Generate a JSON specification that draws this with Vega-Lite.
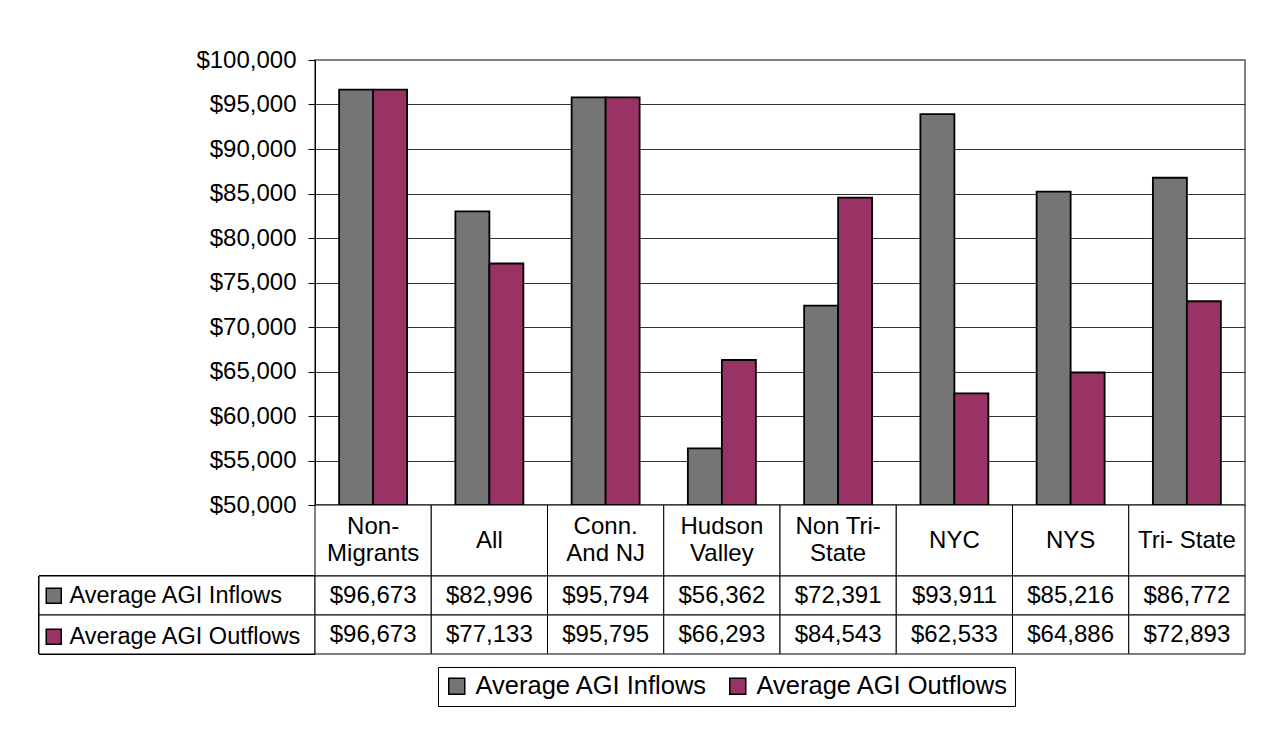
{
  "$schema": "https://vega.github.io/schema/vega-lite/v6.json",
  "background": "white",
  "padding": {"left": 38, "top": 47, "right": 0, "bottom": 0},
  "autosize": {"type": "pad"},
  "datasets": {
    "agi": [
      {"cat": "Non-Migrants", "label": "Non-\nMigrants", "series": "Average AGI  Inflows", "value": 96673},
      {"cat": "Non-Migrants", "label": "Non-\nMigrants", "series": "Average AGI Outflows", "value": 96673},
      {"cat": "All", "label": "All", "series": "Average AGI  Inflows", "value": 82996},
      {"cat": "All", "label": "All", "series": "Average AGI Outflows", "value": 77133},
      {"cat": "Conn. And NJ", "label": "Conn.\nAnd NJ", "series": "Average AGI  Inflows", "value": 95794},
      {"cat": "Conn. And NJ", "label": "Conn.\nAnd NJ", "series": "Average AGI Outflows", "value": 95795},
      {"cat": "Hudson Valley", "label": "Hudson\nValley", "series": "Average AGI  Inflows", "value": 56362},
      {"cat": "Hudson Valley", "label": "Hudson\nValley", "series": "Average AGI Outflows", "value": 66293},
      {"cat": "Non Tri-State", "label": "Non Tri-\nState", "series": "Average AGI  Inflows", "value": 72391},
      {"cat": "Non Tri-State", "label": "Non Tri-\nState", "series": "Average AGI Outflows", "value": 84543},
      {"cat": "NYC", "label": "NYC", "series": "Average AGI  Inflows", "value": 93911},
      {"cat": "NYC", "label": "NYC", "series": "Average AGI Outflows", "value": 62533},
      {"cat": "NYS", "label": "NYS", "series": "Average AGI  Inflows", "value": 85216},
      {"cat": "NYS", "label": "NYS", "series": "Average AGI Outflows", "value": 64886},
      {"cat": "Tri- State", "label": "Tri- State", "series": "Average AGI  Inflows", "value": 86772},
      {"cat": "Tri- State", "label": "Tri- State", "series": "Average AGI Outflows", "value": 72893}
    ]
  },
  "data": {"name": "agi"},
  "columns": 2,
  "spacing": 0,
  "bounds": "flush",
  "concat": [
    {"width": 276, "height": 445, "mark": {"type": "text", "text": ""}, "encoding": {}},
    {
      "width": 930,
      "height": 445,
      "view": {"stroke": "#808080", "strokeWidth": 2},
      "mark": {"type": "bar", "stroke": "black", "strokeWidth": 1.8},
      "encoding": {
        "x": {"field": "cat", "type": "nominal", "sort": null, "scale": {"paddingInner": 0, "paddingOuter": 0}, "axis": null},
        "xOffset": {"field": "series", "type": "nominal", "sort": null, "scale": {"paddingInner": 0, "paddingOuter": 0.71}},
        "y": {
          "field": "value", "type": "quantitative",
          "scale": {"domain": [50000, 100000], "zero": false, "nice": false},
          "axis": {
            "values": [50000, 55000, 60000, 65000, 70000, 75000, 80000, 85000, 90000, 95000, 100000],
            "format": "$,.0f", "title": null, "grid": true,
            "gridColor": {"condition": {"test": "datum.value == 100000", "value": "#808080"}, "value": "#333333"},
            "gridWidth": 1, "domainColor": "black", "tickColor": "black", "tickSize": 7,
            "labelPadding": 12, "labelFontSize": 24, "labelColor": "black"
          }
        },
        "y2": {"datum": 50000},
        "color": {
          "field": "series", "type": "nominal", "sort": null,
          "scale": {"range": ["#757575", "#993366"]},
          "legend": {
            "orient": "none", "direction": "horizontal", "legendX": 123, "legendY": 607,
            "title": null, "strokeColor": "black", "fillColor": "white", "padding": 6,
            "symbolType": "square", "symbolSize": 256, "symbolStrokeColor": "black", "symbolStrokeWidth": 1.5,
            "symbolOpacity": 1, "labelFontSize": 25.5, "labelColor": "black", "labelOffset": 6, "columnPadding": 10,
            "labelLimit": 0
          }
        }
      }
    },
    {"width": 276, "height": 71, "mark": {"type": "text", "text": ""}, "encoding": {}},
    {
      "width": 930,
      "height": 71,
      "transform": [{"filter": "datum.series === 'Average AGI Outflows'"}],
      "encoding": {
        "x": {"field": "cat", "type": "nominal", "sort": null, "scale": {"paddingInner": 0, "paddingOuter": 0}, "axis": null}
      },
      "layer": [
        {"mark": {"type": "rect", "fill": "white", "stroke": "black", "strokeWidth": 1}},
        {
          "mark": {
            "type": "text", "fontSize": 24, "lineBreak": "\n", "lineHeight": 27, "baseline": "middle", "color": "black",
            "dy": {"expr": "indexof(datum.label, '\\n') >= 0 ? -13.5 : 0"}
          },
          "encoding": {"text": {"field": "label"}}
        }
      ]
    },
    {
      "width": 276,
      "height": 78,
      "encoding": {
        "y": {"field": "series", "type": "nominal", "sort": null, "scale": {"paddingInner": 0, "paddingOuter": 0}, "axis": null}
      },
      "layer": [
        {"mark": {"type": "rect", "fill": "white", "stroke": "black", "strokeWidth": 1}},
        {
          "mark": {"type": "rect", "opacity": 0},
          "encoding": {
            "color": {
              "field": "series", "type": "nominal", "sort": null,
              "scale": {"range": ["#757575", "#993366"]},
              "legend": {
                "orient": "none", "direction": "vertical", "legendX": 3, "legendY": 8,
                "title": null, "padding": 0,
                "symbolType": "square", "symbolSize": 225, "symbolStrokeColor": "black", "symbolStrokeWidth": 1.5,
                "symbolOpacity": 1, "labelFontSize": 23.5, "labelColor": "black", "labelOffset": 4, "rowPadding": 16,
                "labelLimit": 0
              }
            }
          }
        }
      ]
    },
    {
      "width": 930,
      "height": 78,
      "encoding": {
        "x": {"field": "cat", "type": "nominal", "sort": null, "scale": {"paddingInner": 0, "paddingOuter": 0}, "axis": null},
        "y": {"field": "series", "type": "nominal", "sort": null, "scale": {"paddingInner": 0, "paddingOuter": 0}, "axis": null}
      },
      "layer": [
        {"mark": {"type": "rect", "fill": "white", "stroke": "black", "strokeWidth": 1}},
        {
          "mark": {"type": "text", "fontSize": 24, "color": "black"},
          "encoding": {"text": {"field": "value", "type": "quantitative", "format": "$,.0f"}}
        }
      ]
    }
  ],
  "resolve": {
    "scale": {"x": "independent", "y": "independent", "xOffset": "independent"},
    "legend": {"color": "independent"}
  },
  "config": {
    "view": {"stroke": null},
    "font": "Liberation Sans"
  }
}
